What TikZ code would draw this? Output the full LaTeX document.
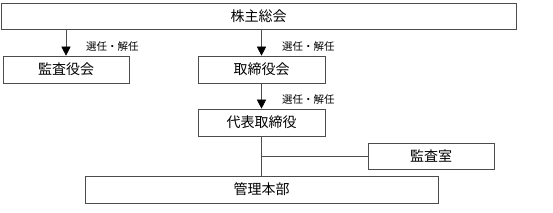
\documentclass[tikz,border=0pt]{standalone}
\usepackage{fontspec}
\setmainfont{Noto Sans CJK JP}
\usetikzlibrary{arrows.meta,positioning}

\begin{document}
\begin{tikzpicture}[x=1pt, y=1pt, sharp corners,
     org/.style={draw=black!70, line width=0.6pt, inner sep=0pt, font=\fontsize{14}{15}\selectfont},
     lbl/.style={inner sep=0pt, anchor=west, font=\fontsize{10.5}{11}\selectfont},
     arr/.style={draw=black!70, line width=0.6pt, -{Triangle[width=9pt,length=9pt,fill=black,color=black]}},
     ln/.style={draw=black!70, line width=0.6pt}]
   \useasboundingbox (0,0) rectangle (553,-213);
   \node[org, minimum width=515pt, minimum height=26pt] (gm)  at (258.5,-16)  {株主総会};
   \node[org, minimum width=126pt, minimum height=27pt] (asb) at (66,-69.5)   {監査役会};
   \node[org, minimum width=127pt, minimum height=27pt] (bod) at (261.5,-69.5) {取締役会};
   \node[org, minimum width=127pt, minimum height=27pt] (ceo) at (261.5,-122.5) {代表取締役};
   \node[org, minimum width=126pt, minimum height=26pt] (aud) at (431,-156)   {監査室};
   \node[org, minimum width=353pt, minimum height=27pt] (adm) at (261.5,-189.5) {管理本部};
   \node[lbl] (l1) at (86,-47)  {選任・解任};
   \node[lbl] (l2) at (282,-47) {選任・解任};
   \node[lbl] (l3) at (282,-100) {選任・解任};
   \coordinate (j) at (ceo.south |- aud.west);
   \draw[arr] (gm.south -| asb) -- (asb.north);
   \draw[arr] (gm.south -| bod) -- (bod.north);
   \draw[arr] (bod.south) -- (ceo.north);
   \draw[ln] (ceo.south) -- (adm.north);
   \draw[ln] (j) -- (aud.west);
\end{tikzpicture}
\end{document}
